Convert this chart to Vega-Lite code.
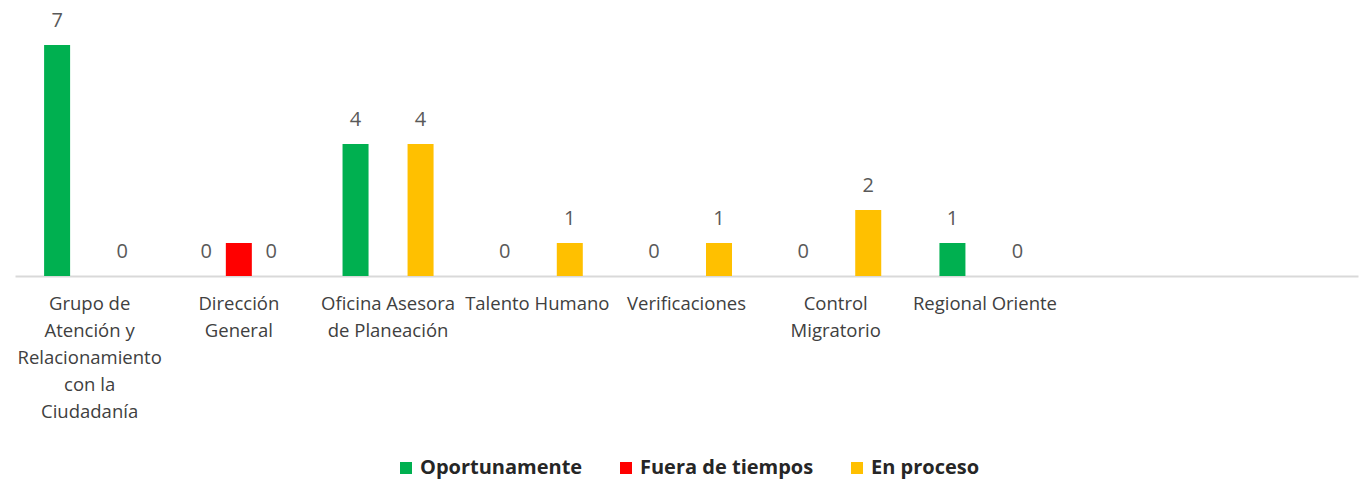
{
  "$schema": "https://vega.github.io/schema/vega-lite/v6.json",
  "width": 1343,
  "height": 264,
  "autosize": {"type": "none"},
  "padding": {"left": 15, "top": 12, "right": 7, "bottom": 205},
  "background": "white",
  "config": {"view": {"stroke": null}, "font": "Open Sans"},
  "data": {
    "values": [
      {"area": "Grupo de Atención y Relacionamiento con la Ciudadanía", "serie": "Oportunamente", "valor": 7},
      {"area": "Grupo de Atención y Relacionamiento con la Ciudadanía", "serie": "En proceso", "valor": 0},
      {"area": "Dirección General", "serie": "Oportunamente", "valor": 0},
      {"area": "Dirección General", "serie": "Fuera de tiempos", "valor": 1},
      {"area": "Dirección General", "serie": "En proceso", "valor": 0},
      {"area": "Oficina Asesora de Planeación", "serie": "Oportunamente", "valor": 4},
      {"area": "Oficina Asesora de Planeación", "serie": "En proceso", "valor": 4},
      {"area": "Talento Humano", "serie": "Oportunamente", "valor": 0},
      {"area": "Talento Humano", "serie": "En proceso", "valor": 1},
      {"area": "Verificaciones", "serie": "Oportunamente", "valor": 0},
      {"area": "Verificaciones", "serie": "En proceso", "valor": 1},
      {"area": "Control Migratorio", "serie": "Oportunamente", "valor": 0},
      {"area": "Control Migratorio", "serie": "En proceso", "valor": 2},
      {"area": "Regional Oriente", "serie": "Oportunamente", "valor": 1},
      {"area": "Regional Oriente", "serie": "En proceso", "valor": 0}
    ]
  },
  "encoding": {
    "x": {
      "field": "area",
      "type": "nominal",
      "sort": null,
      "scale": {
        "domain": ["Grupo de Atención y Relacionamiento con la Ciudadanía", "Dirección General", "Oficina Asesora de Planeación", "Talento Humano", "Verificaciones", "Control Migratorio", "Regional Oriente", " ", "  "],
        "paddingInner": 0.39,
        "paddingOuter": 0.195
      },
      "axis": {
        "title": null,
        "labelAngle": 0,
        "ticks": false,
        "domainColor": "#d9d9d9",
        "domainWidth": 2,
        "labelFont": "Open Sans",
        "labelFontSize": 18.5,
        "labelColor": "#404040",
        "labelPadding": 18,
        "labelBaseline": "top",
        "labelLineHeight": 27,
        "labelLimit": 0,
        "labelOverlap": false,
        "labelExpr": "datum.value == 'Grupo de Atención y Relacionamiento con la Ciudadanía' ? ['Grupo de', 'Atención y', 'Relacionamiento', 'con la', 'Ciudadanía'] : datum.value == 'Dirección General' ? ['Dirección', 'General'] : datum.value == 'Oficina Asesora de Planeación' ? ['Oficina Asesora', 'de Planeación'] : datum.value == 'Control Migratorio' ? ['Control', 'Migratorio'] : datum.value"
      }
    },
    "xOffset": {
      "field": "serie",
      "type": "nominal",
      "scale": {"domain": ["Oportunamente", "Fuera de tiempos", "En proceso"], "paddingInner": 0.2, "paddingOuter": 0}
    },
    "y": {
      "field": "valor",
      "type": "quantitative",
      "scale": {"domain": [0, 8]},
      "axis": null
    }
  },
  "layer": [
    {
      "mark": {"type": "bar"},
      "encoding": {
        "color": {
          "field": "serie",
          "type": "nominal",
          "scale": {"domain": ["Oportunamente", "Fuera de tiempos", "En proceso"], "range": ["#00B050", "#FF0000", "#FFC000"]},
          "legend": {
            "title": null,
            "orient": "none",
            "direction": "horizontal",
            "legendX": 381,
            "legendY": 446,
            "symbolType": "square",
            "symbolSize": 144,
            "symbolStrokeWidth": 0,
            "labelFont": "Open Sans",
            "labelFontSize": 20,
            "labelFontWeight": "bold",
            "labelColor": "#262626",
            "labelOffset": 4,
            "columnPadding": 33,
            "labelLimit": 0
          }
        }
      }
    },
    {
      "transform": [{"filter": "datum.serie != 'Fuera de tiempos'"}],
      "mark": {"type": "text", "baseline": "alphabetic", "dy": -18, "fontSize": 20, "font": "Open Sans", "color": "#595959"},
      "encoding": {"text": {"field": "valor", "type": "quantitative"}}
    }
  ]
}
